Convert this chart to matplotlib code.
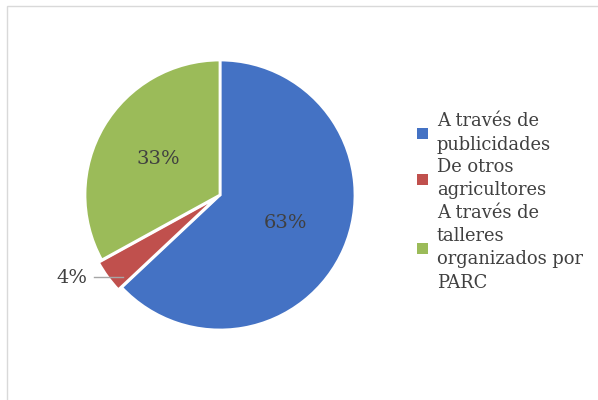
import matplotlib
matplotlib.use("Agg")
import matplotlib.pyplot as plt
from matplotlib.patches import Rectangle
import numpy as np

labels = ["A través de\npublicidades", "De otros\nagricultores",
          "A través de\ntalleres\norganizados por\nPARC"]
values = [63, 4, 33]
colors = ["#4472C4", "#C0504D", "#9BBB59"]

plt.rcParams.update({"font.family": ["DejaVu Serif"]})
TXT = "#404040"
W, H = 598, 400
fig = plt.figure(figsize=(W / 100, H / 100), dpi=100)
fig.patches.append(Rectangle((7 / W, -0.01), 1.0, (H - 6) / H + 0.01, transform=fig.transFigure,
                             fill=False, ec="#d9d9d9", lw=1))

cx, cy, r = 220, 195, 135
ax = fig.add_axes([(cx - r) / W, (H - cy - r) / H, 2 * r / W, 2 * r / H])
wedges, texts, autotexts = ax.pie(values, colors=colors, startangle=90, counterclock=False,
                                  explode=[0, 0.03, 0], autopct="%d%%", pctdistance=0.53,
                                  wedgeprops=dict(ec="white", lw=2),
                                  textprops=dict(color=TXT, fontsize=14))
ax.set_xlim(-1, 1); ax.set_ylim(-1, 1)
ax.set_aspect("equal")

# small slice: label outside with a leader line
i = int(np.argmin(values))
autotexts[i].set_position((-1.1, -0.615))
autotexts[i].set_ha("center")
ax.plot([-0.93, -0.72], [-0.61, -0.61], color="#a6a6a6", lw=1)

handles = [plt.Rectangle((0, 0), 1, 1, fc=c) for c in colors]
leg = fig.legend(handles, labels, loc="center left", bbox_to_anchor=(410 / W, 1 - 202 / H),
                 frameon=False, fontsize=12.9, labelcolor=TXT, handlelength=0.6, handleheight=0.6,
                 handletextpad=0.5, labelspacing=0.25, borderaxespad=0)
for t in leg.get_texts():
    t.set_linespacing(1.38)
fig.savefig("out.png", dpi=100)
